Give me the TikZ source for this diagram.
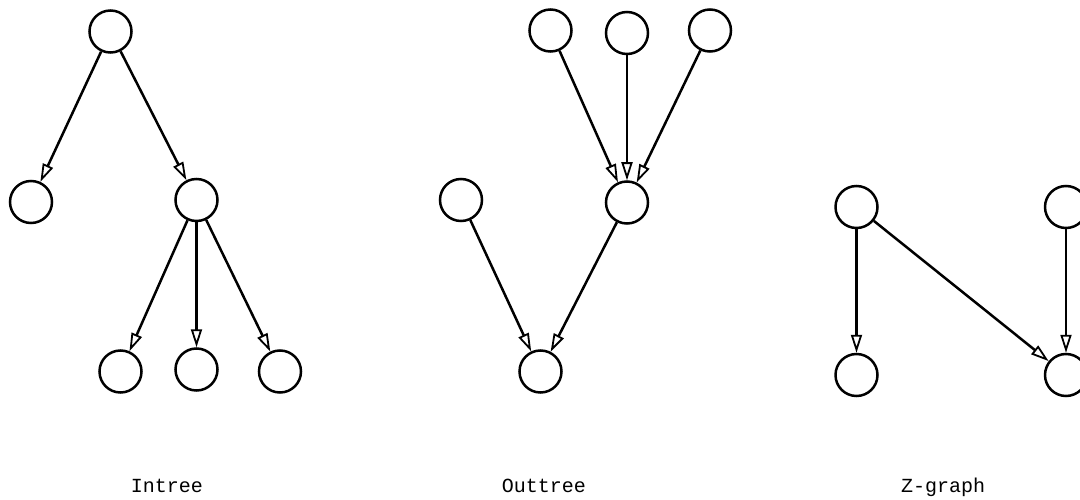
\documentclass[tikz,border=0pt]{standalone}
\usepackage{fontspec}
\setmonofont{Liberation Mono}
\usetikzlibrary{arrows.meta}
\begin{document}
\begin{tikzpicture}[x=1pt,y=-1pt,
  vtx/.style={circle,draw,line width=2.5pt,minimum size=42pt,inner sep=0pt},
  edge/.style={line width=2.5pt,-{Triangle[open,length=18pt,width=11pt,line width=1.8pt]}},
  lbl/.style={font=\ttfamily\fontsize{20pt}{24pt}\selectfont,anchor=base}]
\useasboundingbox (0,0) rectangle (1080,500);
% Intree
\node[vtx] (i0) at (110.5,31.5) {};
\node[vtx] (i1) at (31,202) {};
\node[vtx] (i2) at (196.5,200) {};
\node[vtx] (i3) at (120.5,371.5) {};
\node[vtx] (i4) at (196.5,369.5) {};
\node[vtx] (i5) at (280,371.5) {};
\draw[edge] (i0) -- (i1);
\draw[edge] (i0) -- (i2);
\draw[edge] (i2) -- (i3);
\draw[edge] (i2) -- (i4);
\draw[edge] (i2) -- (i5);
% Outtree
\node[vtx] (o1) at (550.5,30.5) {};
\node[vtx] (o2) at (627,33) {};
\node[vtx] (o3) at (710,30.5) {};
\node[vtx] (o4) at (627,202.5) {};
\node[vtx] (o5) at (461,200) {};
\node[vtx] (o6) at (540.5,371.5) {};
\draw[edge] (o1) -- (o4);
\draw[edge] (o2) -- (o4);
\draw[edge] (o3) -- (o4);
\draw[edge] (o5) -- (o6);
\draw[edge] (o4) -- (o6);
% Z-graph
\node[vtx] (z1) at (856.5,207) {};
\node[vtx] (z2) at (1066,207) {};
\node[vtx] (z3) at (856.5,375) {};
\node[vtx] (z4) at (1066,375) {};
\draw[edge] (z1) -- (z3);
\draw[edge] (z1) -- (z4);
\draw[edge] (z2) -- (z4);
% labels
\node[lbl] (l1) at (167,492) {Intree};
\node[lbl] (l2) at (544,492) {Outtree};
\node[lbl] (l3) at (943,492) {Z-graph};
\end{tikzpicture}
\end{document}
